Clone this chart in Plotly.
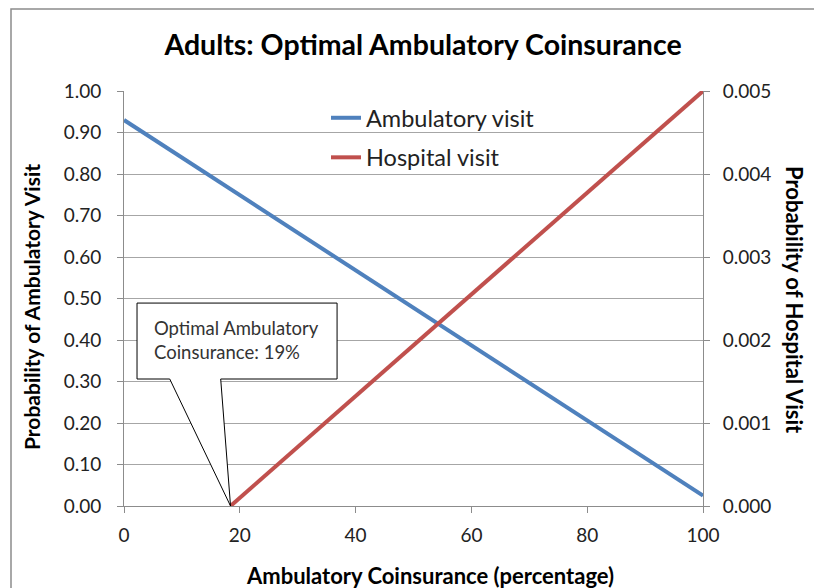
import plotly.graph_objects as go

# ---- data ----
coinsurance_amb = [0, 100]
prob_ambulatory = [0.93, 0.025]
coinsurance_hosp = [18.4, 100]
prob_hospital = [0.0, 0.005]
x_ticks = [0, 20, 40, 60, 80, 100]
optimal_x = 18.4
callout_text = "Optimal Ambulatory<br>Coinsurance: 19%"

W, H = 822, 588
OFF = 8  # page body margin
PW, PH = 579, 415
L = 124 - OFF
T = 91 - OFF
R = W - L - PW
B = H - T - PH

def px_x(sx):
    return (sx - OFF - L) / PW

def px_y(sy):
    return (T + PH - (sy - OFF)) / PH

FONT = "Lato"
fig = go.Figure()
fig.add_trace(go.Scatter(x=coinsurance_amb, y=prob_ambulatory, mode="lines",
                         name="Ambulatory visit", legendgroup="a",
                         line=dict(color="#4F81BD", width=4)))
fig.add_trace(go.Scatter(x=coinsurance_hosp, y=prob_hospital, mode="lines",
                         name="Hospital visit", legendgroup="b", yaxis="y2",
                         line=dict(color="#C0504D", width=4)))

# callout box geometry (data coords of left axis)
bx0, bx1 = 2.25, 36.8
by0, by1 = 0.306, 0.489
p0, p1 = 7.9, 16.7
path = (f"M {bx0},{by1} L {bx1},{by1} L {bx1},{by0} L {p1},{by0} "
        f"L {optimal_x},0 L {p0},{by0} L {bx0},{by0} Z")

shapes = [
    dict(type="path", path=path, xref="x", yref="y", fillcolor="white",
         line=dict(color="black", width=1), layer="above"),
    dict(type="rect", xref="paper", yref="paper",
         x0=px_x(11), x1=px_x(850), y0=px_y(620), y1=px_y(9),
         line=dict(color="#8c8c8c", width=1.5), fillcolor="rgba(0,0,0,0)", layer="below"),
]

axis_font = dict(family=FONT, size=19, color="#222")
annotations = [
    dict(text=callout_text, x=4.9, y=0.40, xref="x", yref="y", xanchor="left",
         yanchor="middle", align="left", showarrow=False,
         font=dict(family=FONT, size=18.5, color="#333")),
    dict(text="<b>Probability of Ambulatory Visit</b>", x=px_x(31), y=px_y(307),
         xref="paper", yref="paper", xanchor="center", yanchor="middle",
         textangle=-90, showarrow=False,
         font=dict(family=FONT, size=21, color="black")),
    dict(text="<b>Probability of Hospital Visit</b>", x=px_x(795), y=px_y(300),
         xref="paper", yref="paper", xanchor="center", yanchor="middle",
         textangle=90, showarrow=False,
         font=dict(family=FONT, size=22, color="black")),
    dict(text="<b>Ambulatory Coinsurance (percentage)</b>", x=px_x(430), y=px_y(575),
         xref="paper", yref="paper", xanchor="center", yanchor="middle",
         showarrow=False,
         font=dict(family=FONT, size=22, color="black")),
]

fig.update_layout(
    width=W, height=H,
    margin=dict(l=L, r=R, t=T, b=B),
    paper_bgcolor="white", plot_bgcolor="white",
    title=dict(text="<b>Adults: Optimal Ambulatory Coinsurance</b>",
               x=px_x(423), xref="paper", xanchor="center",
               y=1 - (45 - OFF) / H, yanchor="middle",
               font=dict(family=FONT, size=28.5, color="black")),
    xaxis=dict(range=[0, 100], tickvals=x_ticks, showgrid=False,
               showline=True, linecolor="#8c8c8c", linewidth=1,
               ticks="outside", ticklen=6, tickcolor="#8c8c8c",
               tickfont=axis_font, zeroline=False, fixedrange=True,
               ticklabelstandoff=6),
    yaxis=dict(range=[0, 1], dtick=0.1, tickformat=".2f",
               showgrid=True, gridcolor="#a6a6a6", gridwidth=1,
               showline=True, linecolor="#8c8c8c", linewidth=1,
               ticks="outside", ticklen=6, tickcolor="#8c8c8c",
               tickfont=axis_font, zeroline=False, ticklabelstandoff=12),
    yaxis2=dict(range=[0, 0.005], dtick=0.001, tickformat=".3f",
                overlaying="y", side="right", showgrid=False,
                showline=True, linecolor="#8c8c8c", linewidth=1,
                ticks="outside", ticklen=6, tickcolor="#8c8c8c",
                tickfont=axis_font, zeroline=False, ticklabelstandoff=9),
    legend=dict(x=px_x(326), y=px_y(96), xanchor="left", yanchor="top",
                bgcolor="rgba(0,0,0,0)", traceorder="grouped", tracegroupgap=6,
                font=dict(family=FONT, size=23.5, color="#222")),
    shapes=shapes,
    annotations=annotations,
)

fig.write_html("out.html")
